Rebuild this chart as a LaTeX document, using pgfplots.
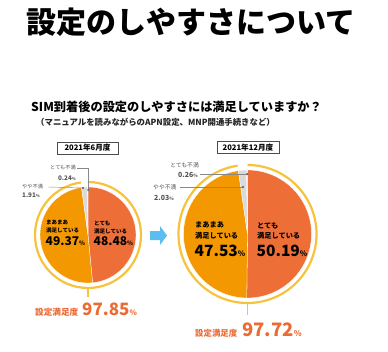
\documentclass[border=0pt]{standalone}
\usepackage{pgfplots}
\pgfplotsset{compat=1.18}
\usepackage{fontspec}
\setmainfont{Noto Sans CJK JP}
\definecolor{cvery}{HTML}{EE6E38}
\definecolor{cfair}{HTML}{F39800}
\definecolor{cgray}{HTML}{DADADA}
\definecolor{cring}{HTML}{F8C33C}
\definecolor{corange}{HTML}{EC6B35}
\definecolor{carrow}{HTML}{5DBDF0}
\definecolor{ctxt}{HTML}{555555}
\definecolor{cline}{HTML}{888888}
\newcommand{\fs}[1]{\fontsize{#1}{#1}\selectfont}
% cx, cy, r, start cumulative %, end cumulative %, colour
\newcommand{\slice}[6]{\fill[#6, draw=white, line width=0.3pt] (axis cs:#1,#2) -- ([shift={({90-3.6*(#4)}:#3pt)}]axis cs:#1,#2) arc[start angle={90-3.6*(#4)}, end angle={90-3.6*(#5)}, radius=#3pt] -- cycle;}
\newcommand{\ring}[4]{\draw[cring, line width=2.2pt] ([shift={(90:#3pt)}]axis cs:#1,#2) arc[start angle=90, end angle={90-3.6*(#4)}, radius=#3pt];}
\begin{document}
\begin{tikzpicture}
\begin{axis}[x=1pt, y=1pt, xmin=0, xmax=388, ymin=0, ymax=351, hide axis, clip=false, scale only axis]
\fill[white] (axis cs:0,0) rectangle (axis cs:388,351);
% title
\node[font=\fs{30}\bfseries] at (axis cs:191,329) {設定のしやすさについて};
\node[font=\fs{12.2}\bfseries, anchor=west, inner sep=0pt] at (axis cs:31,244) {SIM到着後の設定のしやすさには満足していますか？};
\node[font=\fs{8.4}\bfseries, anchor=west, inner sep=0pt, text=black!85] at (axis cs:36,229) {（マニュアルを読みながらのAPN設定、MNP開通手続きなど）};
% boxes
\draw[black!70, line width=0.6pt, fill=white] (axis cs:57,197) rectangle (axis cs:118,209);
\node[font=\fs{7.6}\bfseries, inner sep=0pt] at (axis cs:87.5,203) {2021年6月度};
\draw[black!70, line width=0.6pt, fill=white] (axis cs:217,198) rectangle (axis cs:279,209.5);
\node[font=\fs{7.6}\bfseries, inner sep=0pt] at (axis cs:248,203.7) {2021年12月度};
% left pie: 48.48, 49.37, 1.91, 0.24
\slice{88}{116}{48}{0}{48.48}{cvery}
\slice{88}{116}{48}{48.48}{97.85}{cfair}
\slice{88}{116}{48}{97.85}{99.76}{cgray}
\slice{88}{116}{48}{99.76}{100}{cgray}
\ring{88}{116}{53}{97.85}
\draw[cring, line width=1.6pt] (axis cs:88,63) -- (axis cs:88,54);
% right pie: 50.19, 47.53, 2.03, 0.26
\slice{247.5}{117}{64}{0}{50.19}{cvery}
\slice{247.5}{117}{64}{50.19}{97.72}{cfair}
\slice{247.5}{117}{64}{97.72}{99.75}{cgray}
\slice{247.5}{117}{64}{99.75}{100}{cgray}
\ring{247.5}{117}{69}{97.72}
\draw[cring, line width=1.6pt] (axis cs:247.5,48) -- (axis cs:247.5,36);
% leader lines
\draw[cline, line width=0.4pt] (axis cs:77,183) -- (axis cs:88.3,183) -- (axis cs:88.3,161);
\draw[cline, line width=0.4pt] (axis cs:48,164) -- (axis cs:83,163);
\draw[cline, line width=0.4pt] (axis cs:200,177) -- (axis cs:247.2,177);
\draw[cline, line width=0.4pt] (axis cs:180,164) -- (axis cs:243,164);
\addplot[only marks, mark=*, mark size=0.8pt, color=black!60] coordinates {(88.3,161) (83,163) (247.2,177) (243,164)};
% small labels
\node[font=\fs{5.2}, text=ctxt, anchor=east, inner sep=0pt] at (axis cs:76,183) {とても不満};
\node[font=\fs{6.3}\bfseries, text=ctxt, anchor=east, inner sep=0pt] at (axis cs:76,173) {0.24{\fs{4}\%}};
\node[font=\fs{5.2}, text=ctxt, anchor=west, inner sep=0pt] at (axis cs:22,164.5) {やや不満};
\node[font=\fs{6.3}\bfseries, text=ctxt, anchor=west, inner sep=0pt] at (axis cs:22,156) {1.91{\fs{4}\%}};
\node[font=\fs{5.8}, text=ctxt, anchor=east, inner sep=0pt] at (axis cs:199,186) {とても不満};
\node[font=\fs{7}\bfseries, text=ctxt, anchor=east, inner sep=0pt] at (axis cs:198,176) {0.26{\fs{4.5}\%}};
\node[font=\fs{5.8}, text=ctxt, anchor=west, inner sep=0pt] at (axis cs:153,163.5) {やや不満};
\node[font=\fs{7}\bfseries, text=ctxt, anchor=west, inner sep=0pt] at (axis cs:154,153) {2.03{\fs{4.5}\%}};
% inner labels left
\node[font=\fs{5.5}\bfseries, anchor=west, inner sep=0pt] at (axis cs:46,129) {まあまあ};
\node[font=\fs{5.5}\bfseries, anchor=west, inner sep=0pt] at (axis cs:46,121) {満足している};
\node[font=\fs{12}\bfseries, anchor=base west, inner sep=0pt] at (axis cs:45.5,106) {49.37{\fs{6}\%}};
\node[font=\fs{5.5}\bfseries, anchor=west, inner sep=0pt] at (axis cs:94,128) {とても};
\node[font=\fs{5.5}\bfseries, anchor=west, inner sep=0pt] at (axis cs:94,120) {満足している};
\node[font=\fs{12}\bfseries, anchor=base west, inner sep=0pt] at (axis cs:93.5,106) {48.48{\fs{6}\%}};
% inner labels right
\node[font=\fs{7.2}\bfseries, anchor=west, inner sep=0pt] at (axis cs:195,126) {まあまあ};
\node[font=\fs{7.2}\bfseries, anchor=west, inner sep=0pt] at (axis cs:195,115) {満足している};
\node[font=\fs{15.5}\bfseries, anchor=base west, inner sep=0pt] at (axis cs:194.5,95) {47.53{\fs{7.5}\%}};
\node[font=\fs{7.2}\bfseries, anchor=west, inner sep=0pt] at (axis cs:257,125) {とても};
\node[font=\fs{7.2}\bfseries, anchor=west, inner sep=0pt] at (axis cs:257,115) {満足している};
\node[font=\fs{15.5}\bfseries, anchor=base west, inner sep=0pt] at (axis cs:256.5,95) {50.19{\fs{7.5}\%}};
% bottom labels
\node[text=corange, anchor=base west, inner sep=0pt] at (axis cs:35,36) {{\fs{8.6}\bfseries 設定満足度}\hspace{4pt}{\fs{17}\bfseries 97.85}{\fs{7.5}\bfseries\%}};
\node[text=corange, anchor=base west, inner sep=0pt] at (axis cs:195,15) {{\fs{8.4}\bfseries 設定満足度}\hspace{5pt}{\fs{18.5}\bfseries 97.72}{\fs{8}\bfseries\%}};
% arrow
\fill[carrow] (axis cs:150,120) -- (axis cs:160,120) -- (axis cs:160,125) -- (axis cs:167,115.5) -- (axis cs:160,106) -- (axis cs:160,111) -- (axis cs:150,111) -- cycle;
\end{axis}
\end{tikzpicture}
\end{document}
